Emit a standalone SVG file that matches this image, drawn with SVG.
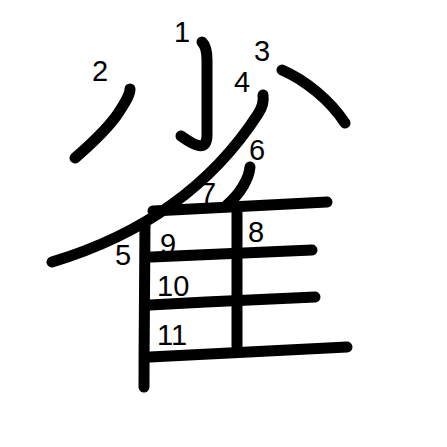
<svg xmlns="http://www.w3.org/2000/svg" width="447" height="447" viewBox="0 0 447 447">
<style>
.s{fill:none;stroke:#000;stroke-width:11;stroke-linecap:round;stroke-linejoin:round}
.n{font-family:"Liberation Sans",Arial,sans-serif;font-size:29px;fill:#000}
</style>
<rect width="447" height="447" fill="#fff"/>
<g id="strokes">
<g id="s1"><path class="s" d="M202,42 C206,46 207,52 207,60 C207,100 207,118 207,135 C207,152 195,146 181,136"/></g>
<g id="s2"><path class="s" d="M130,89 C130,95 125,103 117,115 C107,129 90,145 75,158"/></g>
<g id="s3"><path class="s" d="M282,70 C305,80 330,100 345,123"/></g>
<g id="s4"><path class="s" d="M263,95 C264,102 262,108 258,114 C225,165 165,228 52,262"/></g>
<g id="s5"><path class="s" d="M145,223 C145,270 144,330 144,387"/></g>
<g id="s6"><path class="s" d="M250,167 C249,178 241,193 227,205"/></g>
<g id="s7"><path class="s" d="M153,211 C210,208 270,205 327,202"/></g>
<g id="s8"><path class="s" d="M237,213 C237,260 237,300 237,346"/></g>
<g id="s9"><path class="s" d="M150,257 C205,255 260,252 312,250"/></g>
<g id="s10"><path class="s" d="M150,305 C205,302 265,299 315,297"/></g>
<g id="s11"><path class="s" d="M150,357 C220,353 290,350 347,347"/></g>
</g>
<g id="labels">
<text class="n" x="174" y="42">1</text>
<text class="n" x="92" y="81">2</text>
<text class="n" x="254" y="61">3</text>
<text class="n" x="234" y="92">4</text>
<text class="n" x="115" y="265">5</text>
<text class="n" x="249" y="160">6</text>
<text class="n" x="200" y="203">7</text>
<text class="n" x="248" y="242">8</text>
<text class="n" x="160" y="254">9</text>
<text class="n" x="157" y="296">10</text>
<text class="n" x="157" y="345">11</text>
</g>
</svg>
